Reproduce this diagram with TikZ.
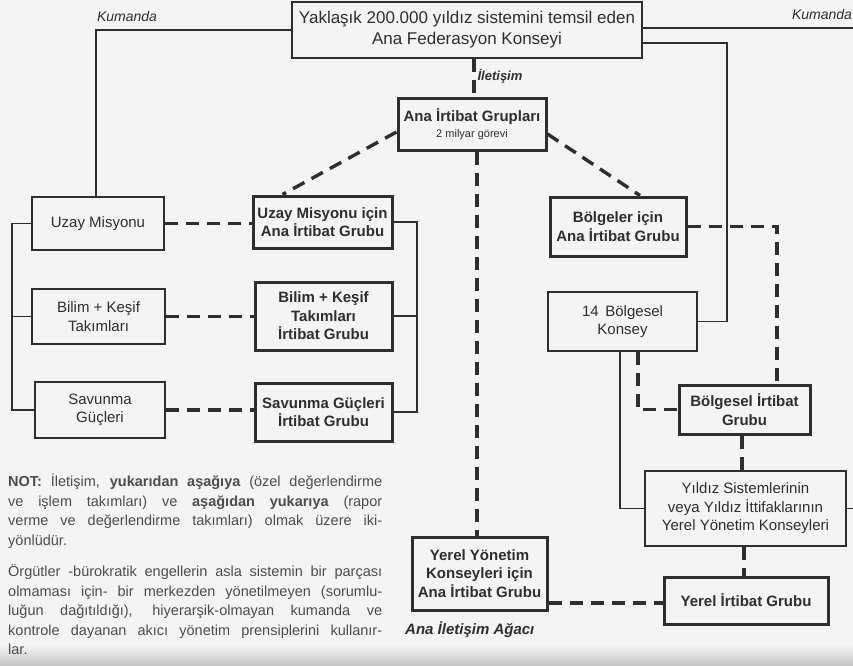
\documentclass[tikz,border=0pt]{standalone}
\usepackage{fontspec}
\setmainfont{Liberation Sans}
\usetikzlibrary{calc}
\definecolor{ink}{gray}{0.18}
\definecolor{notec}{gray}{0.30}
\definecolor{bg}{gray}{0.955}
\tikzset{
  thinbox/.style={draw=ink, line width=1.3pt, align=center, text=ink, inner sep=0pt,
    font=\fontsize{15}{18.5}\selectfont},
  thickbox/.style={draw=ink, line width=3pt, align=center, text=ink, inner sep=0pt,
    font=\bfseries\fontsize{15}{18.5}\selectfont},
  cmdline/.style={draw=ink, line width=1.3pt},
  cmdthick/.style={draw=ink, line width=2.6pt},
  commline/.style={draw=ink, line width=3.4pt, dash pattern=on 13pt off 8pt},
  lbl/.style={text=ink, inner sep=0pt, font=\itshape\fontsize{14}{16}\selectfont},
}
\begin{document}
\begin{tikzpicture}[x=1pt,y=-1pt]
\fill[bg] (0,0) rectangle (853,665);
\shade[top color=bg, bottom color=gray!45] (0,645) rectangle (853,665);
\useasboundingbox (0,0) rectangle (853,665);

% top council
\node[thinbox, font=\fontsize{17}{21}\selectfont, minimum width=350pt, minimum height=56pt] (top) at (467,30)
  {Yaklaşık 200.000 yıldız sistemini temsil eden\\Ana Federasyon Konseyi};

\node[thickbox, minimum width=148pt, minimum height=52pt] (ana) at (472,124)
  {Ana İrtibat Grupları\\[-3pt]{\mdseries\fontsize{11}{12}\selectfont 2 milyar görevi}};

% left column
\node[thinbox, minimum width=132pt, minimum height=53pt] (uzayL) at (98,223.5) {Uzay Misyonu};
\node[thinbox, minimum width=133pt, minimum height=55pt] (bilimL) at (98.5,316.5) {Bilim + Keşif\\Takımları};
\node[thinbox, minimum width=130pt, minimum height=56pt] (savL) at (100,410) {Savunma\\Güçleri};

% middle column
\node[thickbox, minimum width=139pt, minimum height=52pt] (uzayM) at (322.5,222) {Uzay Misyonu için\\Ana İrtibat Grubu};
\node[thickbox, minimum width=137pt, minimum height=68pt] (bilimM) at (323.5,316) {Bilim + Keşif\\Takımları\\İrtibat Grubu};
\node[thickbox, minimum width=137pt, minimum height=58pt] (savM) at (323.5,412) {Savunma Güçleri\\İrtibat Grubu};

% right side
\node[thickbox, minimum width=136pt, minimum height=59pt] (bolgM) at (618,226.5) {Bölgeler için\\Ana İrtibat Grubu};
\node[thinbox, minimum width=149pt, minimum height=59pt] (kons) at (622.5,321.5) {14\, Bölgesel\\Konsey};
\node[thickbox, minimum width=131pt, minimum height=49pt] (bolgI) at (744.5,409.5) {Bölgesel İrtibat\\Grubu};
\node[thinbox, minimum width=201pt, minimum height=75pt] (yildiz) at (745.5,508.5)
  {Yıldız Sistemlerinin\\veya Yıldız İttifaklarının\\Yerel Yönetim Konseyleri};
\node[thickbox, minimum width=135pt, minimum height=73pt] (yerelY) at (479.5,573.5)
  {Yerel Yönetim\\Konseyleri için\\Ana İrtibat Grubu};
\node[thickbox, minimum width=164pt, minimum height=47pt] (yerelI) at (746,600.5) {Yerel İrtibat Grubu};

% coordinates
\coordinate (kR) at (853,28);
\coordinate (c1) at (727,321.5);
\coordinate (bl1) at (12,223.5);
\coordinate (br1) at (417,222);
\coordinate (d1) at (777,226.5);
\coordinate (kR2) at (853,508.5);

% command (solid) lines
\draw[cmdline] (top.west) -| ([xshift=-2pt]uzayL.north);
\draw[cmdline] ([yshift=2pt]top.east) -- (kR);
\draw[cmdline] ([yshift=-13pt]top.east) -| (c1) -- (kons.east);
\draw[cmdline] (uzayL.west) -- (bl1) |- (bilimL.west);
\draw[cmdline] (bl1) |- (savL.west);
\draw[cmdthick] (uzayM.east) -- (br1) |- (bilimM.east);
\draw[cmdthick] (br1) |- (savM.east);
\draw[cmdline] ([xshift=-2.5pt]kons.south) |- (yildiz.west);
\draw[cmdline] (yildiz.east) -- (kR2);

% communication (dashed) lines
\draw[commline] ([xshift=7pt]top.south) -- ([xshift=2pt]ana.north);
\draw[commline] ([yshift=-8pt]ana.west) -- ([xshift=-40pt]uzayM.north);
\draw[commline] ([yshift=-10pt]ana.east) -- ([xshift=22pt]bolgM.north);
\draw[commline] ([xshift=5pt]ana.south) -- ([xshift=-2.5pt]yerelY.north);
\draw[commline] (uzayL.east) -- (uzayL.east -| uzayM.west);
\draw[commline] (bilimL.east) -- (bilimL.east -| bilimM.west);
\draw[commline] (savL.east) -- (savL.east -| savM.west);
\draw[commline] (bolgM.east) -- (d1) -- (bolgI.north -| d1);
\draw[commline] ([xshift=15.5pt]kons.south) |- (bolgI.west);
\draw[commline] ([xshift=-2.5pt]bolgI.south) -- ([xshift=-2.5pt]bolgI.south |- yildiz.north);
\draw[commline] ([xshift=-1.5pt]yildiz.south) -- ([xshift=-1.5pt]yildiz.south |- yerelI.north);
\draw[commline] ([yshift=-29.5pt]yerelY.east) -- ([yshift=-29.5pt]yerelY.east -| yerelI.west);

% labels
\node[lbl] (kumL) at (127,16) {Kumanda};
\node[lbl] (kumR) at (822,14) {Kumanda};
\node[lbl, font=\bfseries\itshape\fontsize{13}{15}\selectfont] (ilet) at (500,76) {İletişim};
\node[lbl, anchor=west, font=\bfseries\itshape\fontsize{15}{17}\selectfont] (capt) at (405,630) {Ana İletişim Ağacı};

% note
\node[anchor=north west, inner sep=0pt, text width=374pt, align=justify, text=notec,
      font=\fontsize{14.5}{19.5}\selectfont] (note) at (8,474)
{\textbf{NOT:} İletişim, \textbf{yukarıdan aşağıya} (özel değerlendirme\linebreak
ve işlem takımları) ve \textbf{aşağıdan yukarıya} (rapor\linebreak
verme ve değerlendirme takımları) olmak üzere iki-\linebreak
yönlüdür.\par\vskip 12pt
Örgütler -bürokratik engellerin asla sistemin bir parçası\linebreak
olmaması için- bir merkezden yönetilmeyen (sorumlu-\linebreak
luğun dağıtıldığı), hiyerarşik-olmayan kumanda ve\linebreak
kontrole dayanan akıcı yönetim prensiplerini kullanır-\linebreak
lar.};
\end{tikzpicture}
\end{document}
